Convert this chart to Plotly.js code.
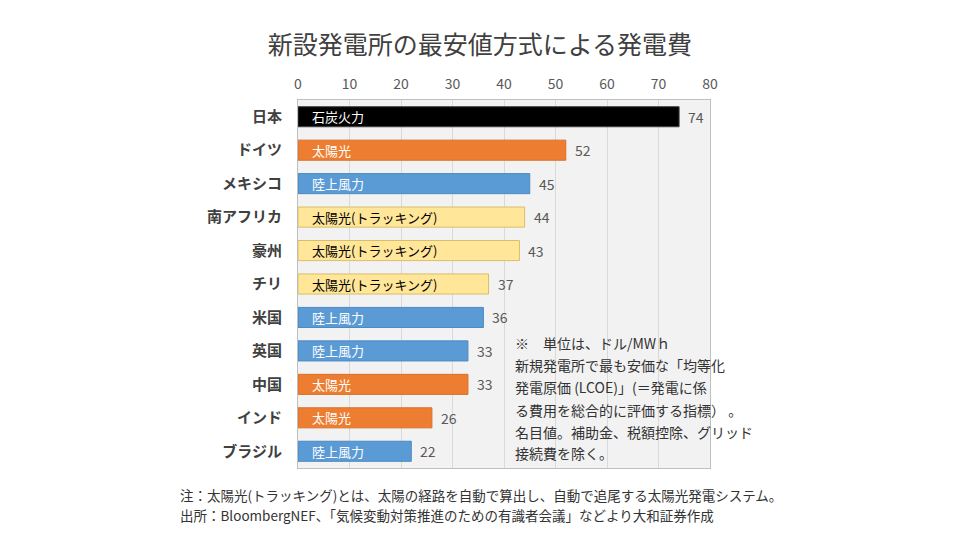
<!DOCTYPE html>
<html><head><meta charset="utf-8">
<script src="https://cdn.plot.ly/plotly-3.0.1.min.js"></script>
<style>html,body{margin:0;padding:0;background:#fff;}#chart{width:960px;height:540px;}</style>
</head><body><div id="chart"></div>
<script>
const countries = ["日本","ドイツ","メキシコ","南アフリカ","豪州","チリ","米国","英国","中国","インド","ブラジル"];
const costs = [74,52,45,44,43,37,36,33,33,26,22];
const sources = ["石炭火力","太陽光","陸上風力","太陽光(トラッキング)","太陽光(トラッキング)","太陽光(トラッキング)","陸上風力","陸上風力","太陽光","太陽光","陸上風力"];
const xTicks = [0,10,20,30,40,50,60,70,80];
const noteLines = ["※　単位は、ドル/MWｈ","新規発電所で最も安価な「均等化","発電原価 (LCOE)」(＝発電に係","る費用を総合的に評価する指標） 。","名目値。補助金、税額控除、グリッド","接続費を除く。"];
const footnotes = ["注：太陽光(トラッキング)とは、太陽の経路を自動で算出し、自動で追尾する太陽光発電システム。","出所：BloombergNEF、「気候変動対策推進のための有識者会議」などより大和証券作成"];

const fillBy = {"石炭火力":"#000000","太陽光":"#ED7D31","陸上風力":"#5B9BD5","太陽光(トラッキング)":"#FFE699"};
const lineBy = {"石炭火力":"#404040","太陽光":"#D9702A","陸上風力":"#4A8AC4","太陽光(トラッキング)":"#D9BE6A"};
const textBy = {"石炭火力":"#ffffff","太陽光":"#ffffff","陸上風力":"#ffffff","太陽光(トラッキング)":"#000000"};
const F = "'Noto Sans CJK JP', 'Noto Sans', sans-serif";

const barTrace = {
  type:"bar", orientation:"h", x:costs, y:countries, width:0.6,
  marker:{color:sources.map(s=>fillBy[s]), line:{color:sources.map(s=>lineBy[s]), width:1}},
  hoverinfo:"none"
};

const annotations = [];
countries.forEach((c,i)=>{
  annotations.push({xref:"x",yref:"y",x:0,y:c,xanchor:"left",yanchor:"middle",xshift:12,
    text:sources[i],showarrow:false,font:{family:F,size:13,color:textBy[sources[i]]}});
  annotations.push({xref:"x",yref:"y",x:costs[i],y:c,xanchor:"left",yanchor:"middle",xshift:7,
    text:String(costs[i]),showarrow:false,font:{family:F,size:14,color:"#595959"}});
});
const noteY = [343,365,387,410,432,453];
noteLines.forEach((t,i)=>annotations.push({xref:"paper",yref:"paper",x:(513-298)/412,y:1-(noteY[i]-100)/368,
  xanchor:"left",yanchor:"middle",text:t,showarrow:false,font:{family:F,size:14,color:"#333333"}}));
const footY = [495,515];
footnotes.forEach((t,i)=>annotations.push({xref:"paper",yref:"paper",x:(178-298)/412,y:1-(footY[i]-100)/368,
  xanchor:"left",yanchor:"middle",text:t,showarrow:false,font:{family:F,size:13.5,color:"#333333"}}));

const layout = {
  width:960, height:540, margin:{l:298,r:250,t:100,b:72},
  paper_bgcolor:"#ffffff", plot_bgcolor:"#f2f2f2", showlegend:false,
  title:{text:"新設発電所の最安値方式による発電費", x:0.5, xanchor:"center", y:1-45/540, yanchor:"middle",
    font:{family:F,size:25,color:"#404040"}},
  xaxis:{side:"top", range:[0,80], tickvals:xTicks, ticktext:xTicks.map(String), showgrid:true, gridcolor:"#d9d9d9",
    zeroline:false, showline:true, linecolor:"#bfbfbf", mirror:true, ticks:"", ticklabelstandoff:4,
    tickfont:{family:F,size:14,color:"#595959"}, fixedrange:true},
  yaxis:{autorange:"reversed", showgrid:false, showline:true, linecolor:"#bfbfbf", mirror:true, ticks:"",
    ticklabelstandoff:12, tickfont:{family:F,size:15,color:"#404040",weight:"bold"}, fixedrange:true},
  annotations:annotations, bargap:0.4
};
Plotly.newPlot("chart",[barTrace],layout,{staticPlot:true,displayModeBar:false});
</script></body></html>
